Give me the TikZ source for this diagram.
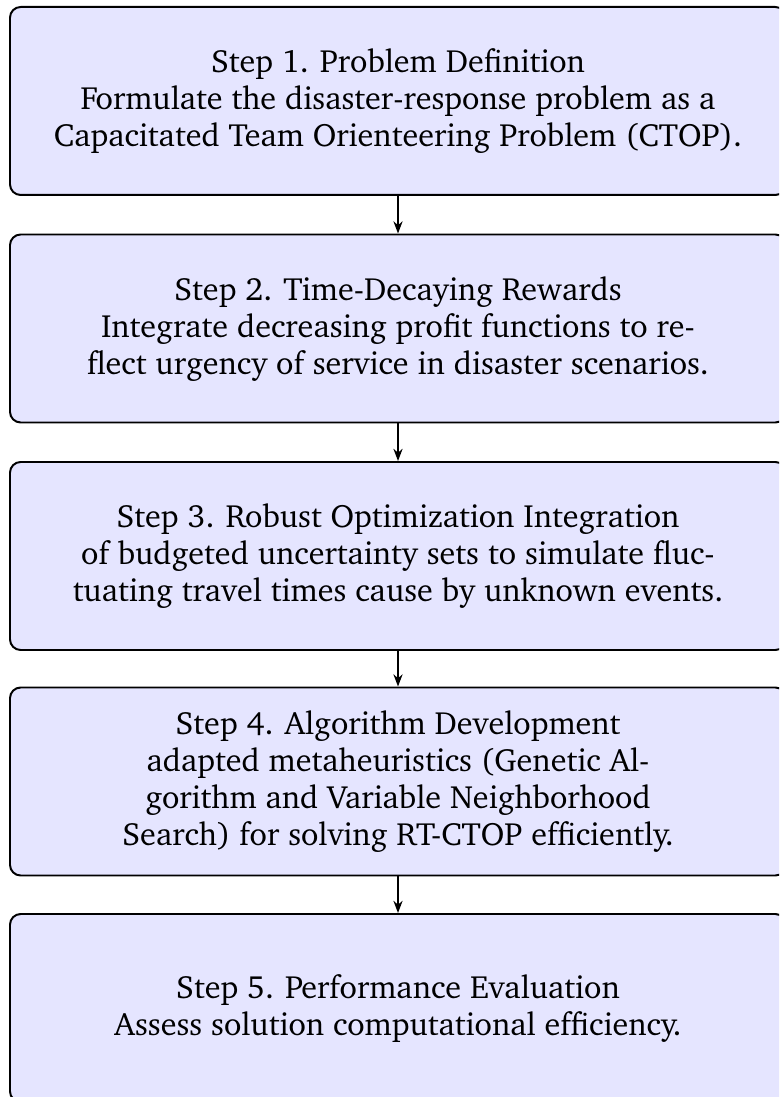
\documentclass[tikz,border=0pt]{standalone}
\usepackage[T1]{fontenc}
\usepackage{charter}
\usetikzlibrary{arrows.meta}
\tikzset{
  stepbox/.style={draw=black, line width=0.65pt, fill=blue!10, rounded corners=3.5pt,
    minimum width=776*0.328pt, minimum height=188*0.328pt, align=center,
    inner sep=0pt, font=\fontsize{10.55}{12.15}\selectfont},
  flow/.style={line width=0.6pt, -{Stealth[length=4pt,width=3pt]}}
}
\begin{document}
\begin{tikzpicture}[x=0.328pt, y=-0.328pt]
\clip (0,0) rectangle (779,1097);
\useasboundingbox (0,0) rectangle (779,1097);
\node[stepbox] (s1) at (398,101) {Step 1. Problem Definition\\
Formulate the disaster-response problem as a\\
Capacitated Team Orienteering Problem (CTOP).};
\node[stepbox] (s2) at (398,328.5) {Step 2. Time-Decaying Rewards\\
Integrate decreasing profit functions to re-\\
flect urgency of service in disaster scenarios.};
\node[stepbox] (s3) at (398,556) {Step 3. Robust Optimization Integration\\
of budgeted uncertainty sets to simulate fluc-\\
tuating travel times cause by unknown events.};
\node[stepbox] (s4) at (398,781.5) {Step 4. Algorithm Development\\
adapted metaheuristics (Genetic Al-\\
gorithm and Variable Neighborhood\\
Search) for solving RT-CTOP efficiently.};
\node[stepbox] (s5) at (398,1008) {Step 5. Performance Evaluation\\
Assess solution computational efficiency.};
\draw[flow] (s1) -- (s2);
\draw[flow] (s2) -- (s3);
\draw[flow] (s3) -- (s4);
\draw[flow] (s4) -- (s5);
\end{tikzpicture}
\end{document}
